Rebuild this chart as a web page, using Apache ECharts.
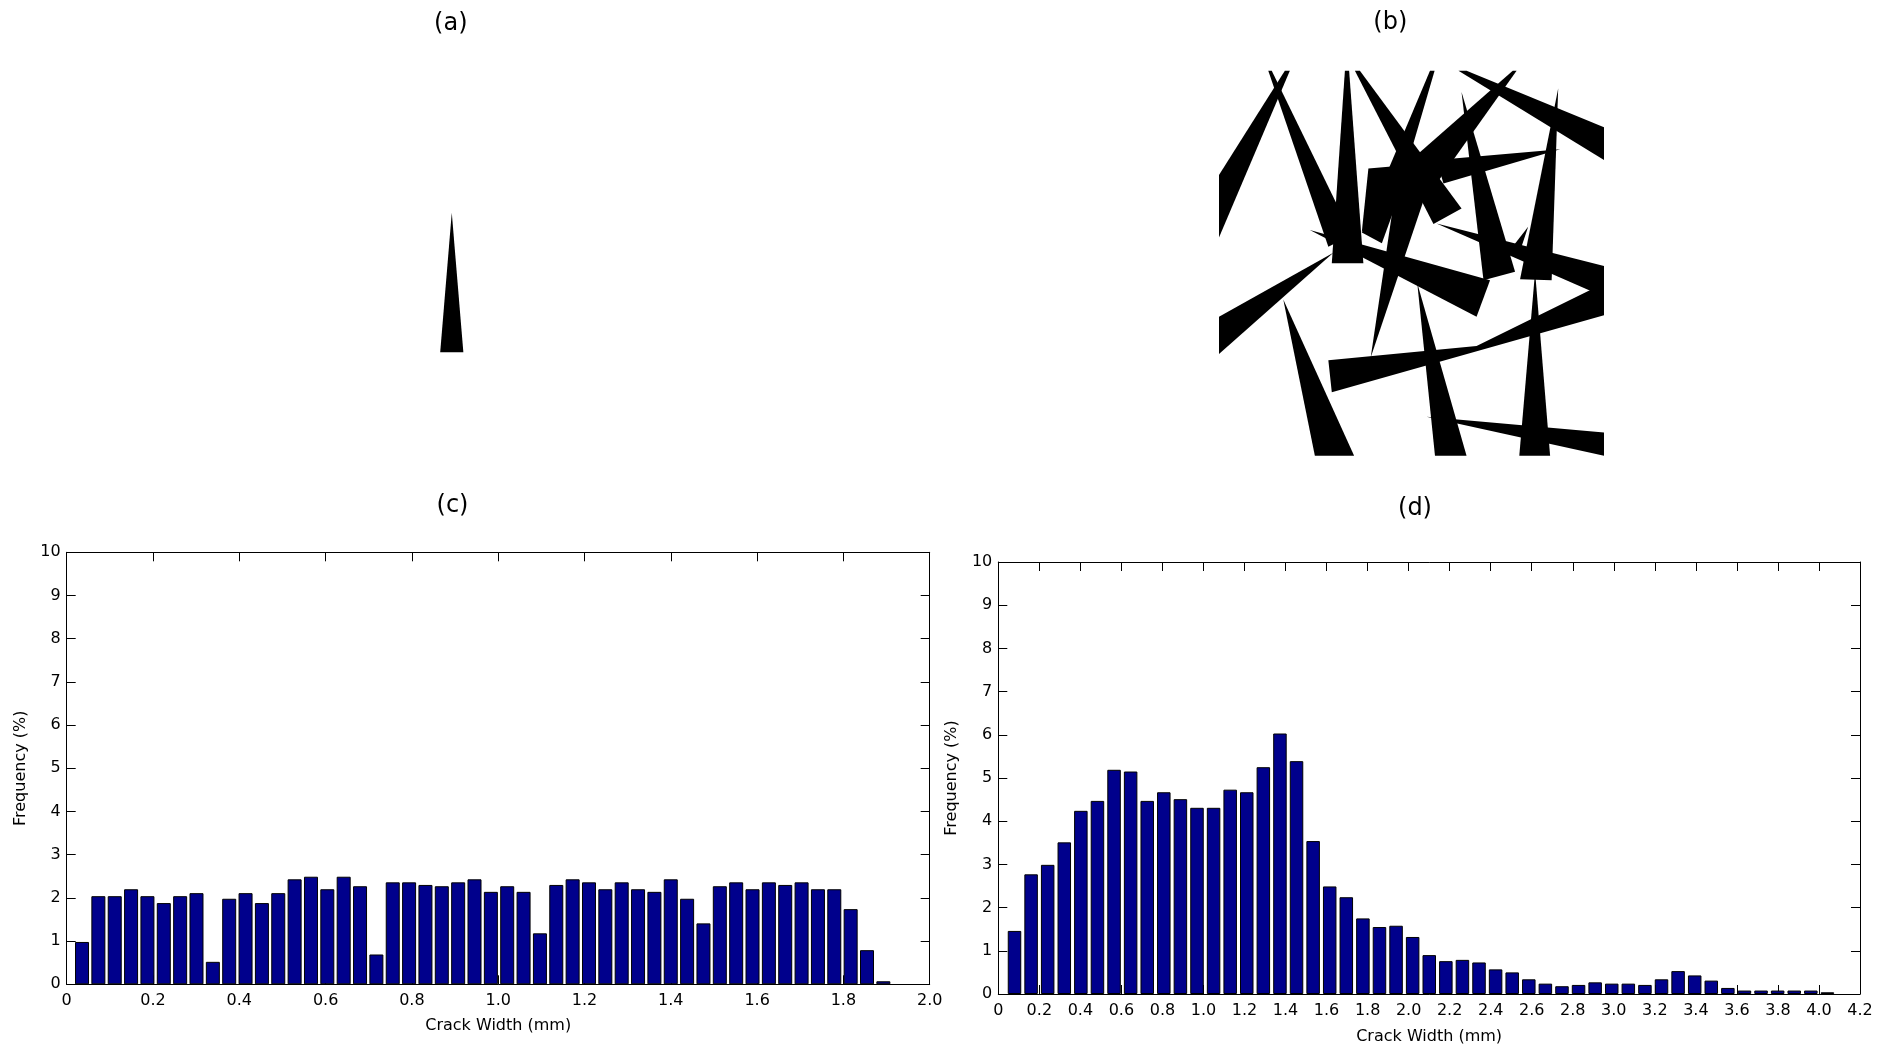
<!DOCTYPE html>
<html>
<head>
<meta charset="utf-8">
<script src="https://cdn.jsdelivr.net/npm/echarts@6/dist/echarts.min.js"></script>
<style>
html,body{margin:0;padding:0;background:#fff;}
#chart{width:1893px;height:1047px;}
</style>
</head>
<body>
<div id="chart"></div>
<script>
// ---------- DATA ----------
const panelTitles = ['(a)', '(b)', '(c)', '(d)'];
const xAxisName = 'Crack Width (mm)';
const yAxisName = 'Frequency (%)';

// (c) histogram: 50 equal bins
const binStartC = 0.0355, binWidthC = 0.0379;
const freqC = [0.98, 2.04, 2.04, 2.20, 2.04, 1.88, 2.04, 2.11, 0.52, 1.98,
               2.11, 1.88, 2.11, 2.43, 2.49, 2.20, 2.49, 2.27, 0.69, 2.36,
               2.36, 2.30, 2.27, 2.36, 2.43, 2.14, 2.27, 2.14, 1.18, 2.30,
               2.43, 2.36, 2.20, 2.36, 2.20, 2.14, 2.43, 1.98, 1.41, 2.27,
               2.36, 2.20, 2.36, 2.30, 2.36, 2.20, 2.20, 1.74, 0.79, 0.07];

// (d) histogram: 50 equal bins
const binStartD = 0.079, binWidthD = 0.08086;
const freqD = [1.46, 2.77, 2.99, 3.51, 4.24, 4.47, 5.19, 5.15, 4.47, 4.67,
               4.51, 4.31, 4.31, 4.73, 4.67, 5.25, 6.03, 5.39, 3.54, 2.49,
               2.24, 1.75, 1.55, 1.58, 1.32, 0.90, 0.76, 0.79, 0.73, 0.57,
               0.50, 0.34, 0.24, 0.18, 0.21, 0.27, 0.24, 0.24, 0.21, 0.34,
               0.53, 0.43, 0.31, 0.14, 0.08, 0.08, 0.08, 0.08, 0.08, 0.04];

const xTicksC = {min: 0, max: 2.0, step: 0.2};
const xTicksD = {min: 0, max: 4.2, step: 0.2};
const yTicks = {min: 0, max: 10, step: 1};

// (a) single crack, image units 0..100 (y downwards)
const cracksA = [
  [[50.2, 37.0], [53.2, 73.1], [47.2, 73.1]]
];
// (b) crack network, image units 0..100 (y downwards)
const cracksB = [
  [[17.1, 0], [18.4, 0], [0, 43.3], [0, 27.1]],
  [[12.8, 0], [13.7, 0], [34.5, 42.7], [28.4, 45.7]],
  [[32.7, 0], [33.8, 0], [37.5, 50.0], [29.3, 50.0]],
  [[23.6, 41.4], [70.4, 54.4], [66.9, 63.9]],
  [[29.7, 47.3], [0, 63.9], [0, 73.6]],
  [[16.7, 59.4], [24.9, 100], [35.1, 100]],
  [[35.3, 0], [36.6, 0], [63.0, 35.8], [55.7, 39.8]],
  [[54.8, 0], [56.0, 0], [45.5, 36.0], [42.3, 44.8], [37.1, 42.0]],
  [[38.8, 25.4], [44.8, 24.9], [43.8, 35.3], [37.1, 41.8]],
  [[76.3, 0], [77.3, 0], [56.0, 30.0], [49.0, 24.0]],
  [[39.4, 74.5], [46.8, 24.5], [56.1, 24.9]],
  [[56.5, 39.7], [100, 50.7], [100, 58.7]],
  [[88.6, 20.4], [56.5, 23.2], [58.3, 29.3]],
  [[28.4, 75.2], [66.9, 71.5], [100, 55.2], [100, 63.5], [29.3, 83.5]],
  [[51.5, 55.2], [64.3, 100], [56.1, 100]],
  [[53.9, 89.9], [100, 94.0], [100, 100]],
  [[82.1, 52.2], [86.0, 100], [78.0, 100]],
  [[63.0, 5.5], [76.9, 52.2], [68.7, 54.4]],
  [[88.1, 4.6], [86.4, 54.4], [78.2, 54.2]],
  [[62.2, 0], [64.3, 0], [100, 14.7], [100, 23.2]],
  [[80.3, 40.5], [77.7, 48.3], [75.6, 46.6]]
];

// ---------- BUILD ----------
const FONT = '"DejaVu Sans", sans-serif';
function centers(start, width, n) {
  const out = [];
  for (let i = 0; i < n; i++) out.push(+(start + i * width).toFixed(4));
  return out;
}
const ctrC = centers(binStartC, binWidthC, freqC.length);
const ctrD = centers(binStartD, binWidthD, freqD.length);
const fmtX = v => (Math.abs(v) < 1e-9 ? '0' : v.toFixed(1));

function boxAxis(showLabel, pos, ticks, gridIndex, isX, extra) {
  return Object.assign({
    type: 'value', gridIndex: gridIndex, position: pos,
    min: ticks.min, max: ticks.max, interval: ticks.step,
    axisLine: {show: true, onZero: false, lineStyle: {color: '#000', width: 1}},
    axisTick: {show: true, inside: true, length: 9, lineStyle: {color: '#000', width: 1}},
    splitLine: {show: false},
    axisLabel: showLabel ? {
      show: true, color: '#000', fontFamily: FONT, fontSize: 16,
      margin: isX ? 9 : 6, hideOverlap: false,
      showMinLabel: true, showMaxLabel: true,
      formatter: isX ? fmtX : (v => String(v))
    } : {show: false}
  }, extra || {});
}
const imgAxisX = gi => ({type: 'value', gridIndex: gi, min: 0, max: 100, show: false});
const imgAxisY = gi => ({type: 'value', gridIndex: gi, min: 0, max: 100, inverse: true, show: false});

function crackRender(list) {
  return function (params, api) {
    const pts = list[params.dataIndex].map(p => api.coord(p));
    return {type: 'polygon', shape: {points: pts}, style: {fill: '#000'}};
  };
}

const nameStyle = {color: '#000', fontFamily: FONT, fontSize: 16};

const option = {
  animation: false,
  backgroundColor: '#fff',
  grid: [
    {left: 258, top: 70, width: 386, height: 386},
    {left: 1219, top: 70.7, width: 385, height: 385},
    {left: 66.7, top: 552.3, width: 863, height: 432},
    {left: 998.3, top: 562, width: 861.7, height: 432}
  ],
  xAxis: [
    imgAxisX(0), imgAxisX(1),
    boxAxis(true, 'bottom', xTicksC, 2, true, {name: xAxisName, nameLocation: 'middle', nameGap: 34, nameTextStyle: nameStyle}),
    boxAxis(false, 'top', xTicksC, 2, true),
    boxAxis(true, 'bottom', xTicksD, 3, true, {name: xAxisName, nameLocation: 'middle', nameGap: 35, nameTextStyle: nameStyle}),
    boxAxis(false, 'top', xTicksD, 3, true)
  ],
  yAxis: [
    imgAxisY(0), imgAxisY(1),
    boxAxis(true, 'left', yTicks, 2, false, {name: yAxisName, nameLocation: 'middle', nameGap: 38, nameTextStyle: nameStyle}),
    boxAxis(false, 'right', yTicks, 2, false),
    boxAxis(true, 'left', yTicks, 3, false, {name: yAxisName, nameLocation: 'middle', nameGap: 38, nameTextStyle: nameStyle}),
    boxAxis(false, 'right', yTicks, 3, false)
  ],
  series: [
    {type: 'custom', xAxisIndex: 0, yAxisIndex: 0, renderItem: crackRender(cracksA),
     data: cracksA.map((c, i) => [i])},
    {type: 'custom', xAxisIndex: 1, yAxisIndex: 1, renderItem: crackRender(cracksB),
     data: cracksB.map((c, i) => [i])},
    {type: 'bar', xAxisIndex: 2, yAxisIndex: 2, barWidth: 14,
     data: ctrC.map((c, i) => [c, freqC[i]]),
     itemStyle: {color: '#00008C', borderColor: '#000', borderWidth: 1}},
    {type: 'bar', xAxisIndex: 4, yAxisIndex: 4, barWidth: 13.5,
     data: ctrD.map((c, i) => [c, freqD[i]]),
     itemStyle: {color: '#00008C', borderColor: '#000', borderWidth: 1}}
  ],
  graphic: [
    {type: 'text', x: 450.8, y: 24, style: {text: panelTitles[0], font: '24px ' + FONT, fill: '#000', align: 'center', verticalAlign: 'middle'}},
    {type: 'text', x: 1390.3, y: 22.5, style: {text: panelTitles[1], font: '24px ' + FONT, fill: '#000', align: 'center', verticalAlign: 'middle'}},
    {type: 'text', x: 452.5, y: 505.5, style: {text: panelTitles[2], font: '24px ' + FONT, fill: '#000', align: 'center', verticalAlign: 'middle'}},
    {type: 'text', x: 1415, y: 508.5, style: {text: panelTitles[3], font: '24px ' + FONT, fill: '#000', align: 'center', verticalAlign: 'middle'}}
  ]
};

const chart = echarts.init(document.getElementById('chart'), null, {renderer: 'canvas'});
chart.setOption(option);
</script>
</body>
</html>
